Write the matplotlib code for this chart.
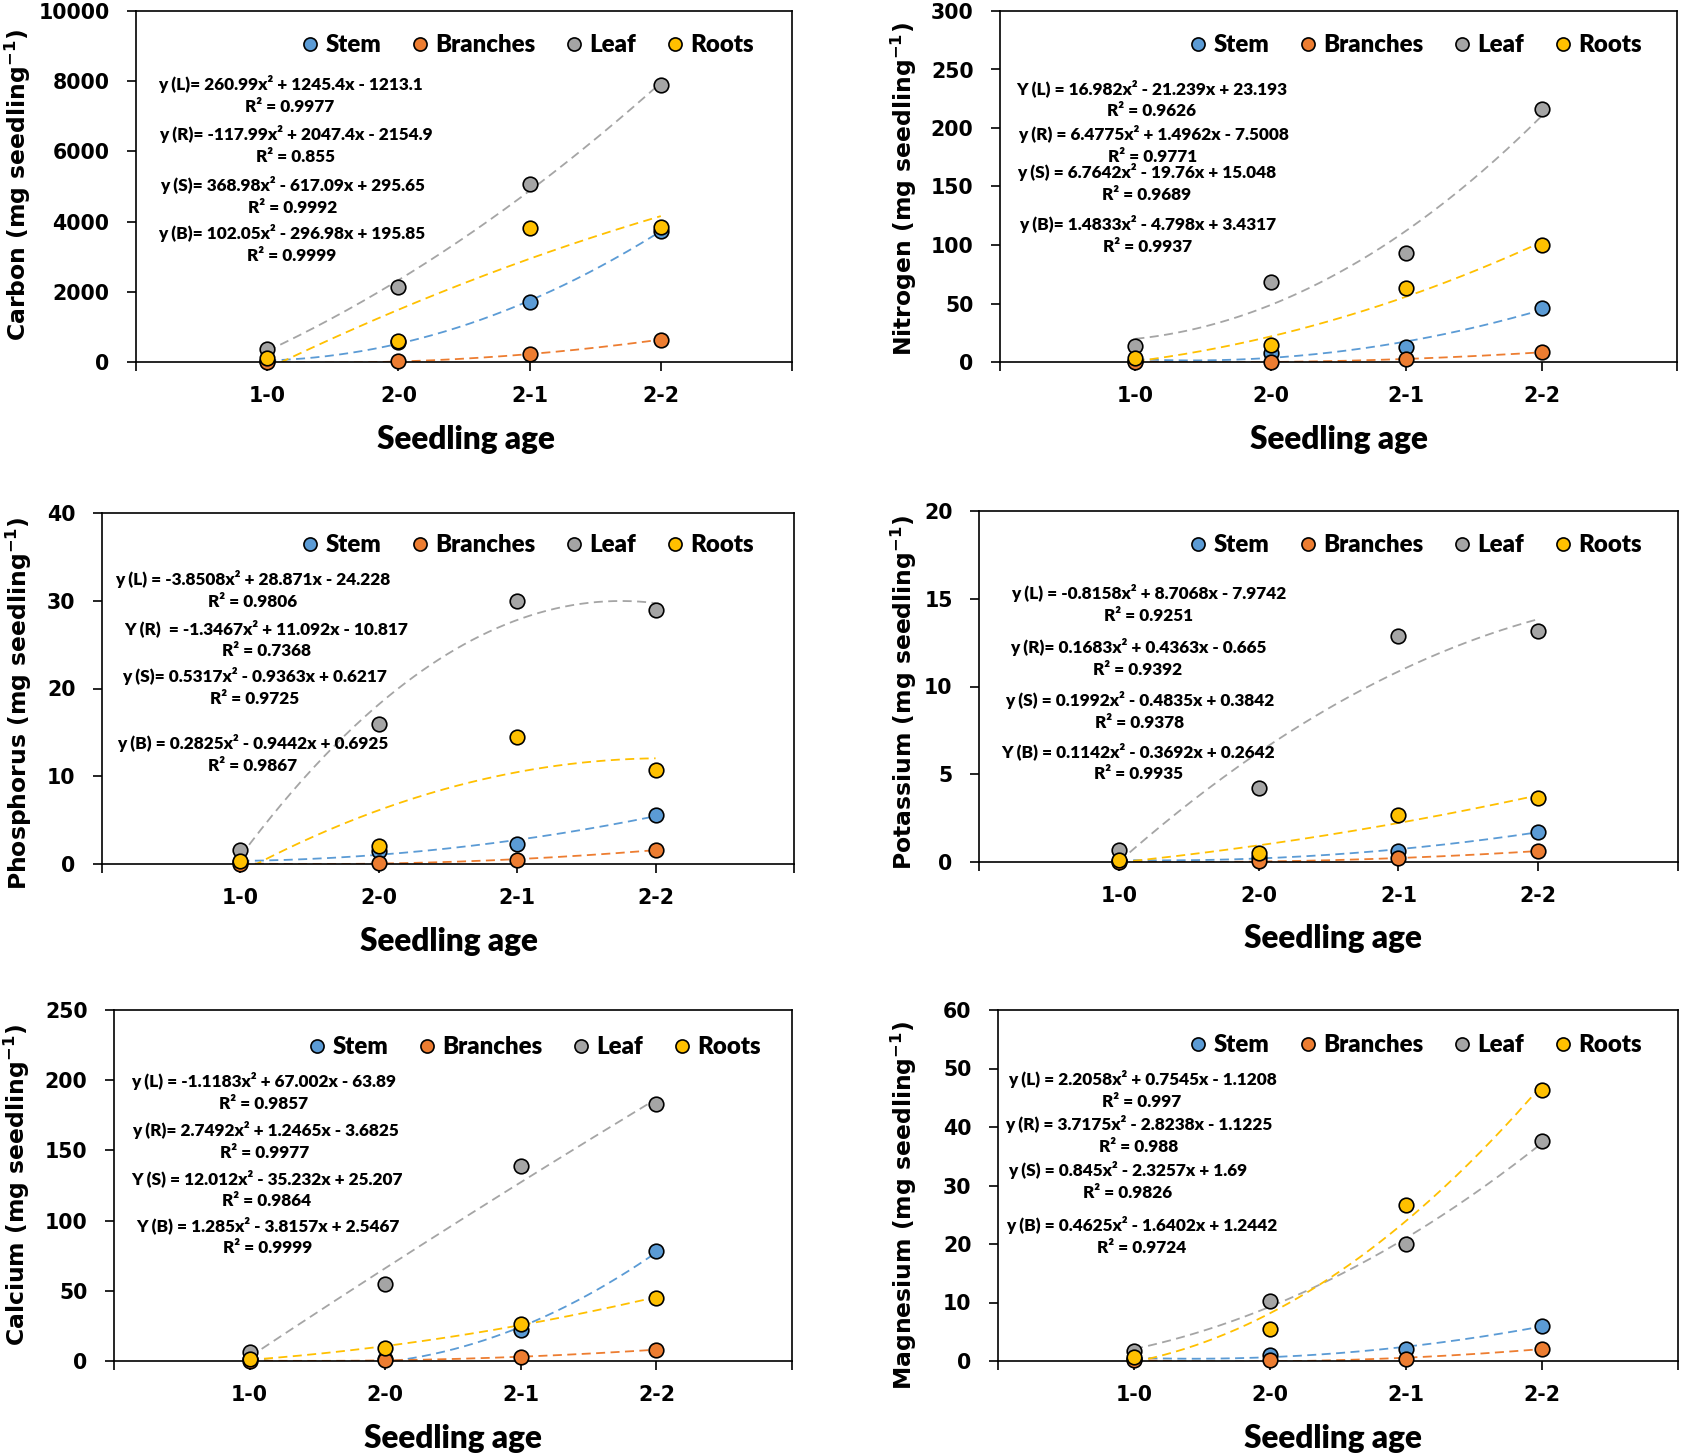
import numpy as np
import matplotlib
matplotlib.use('Agg')
import matplotlib.pyplot as plt

ages = ['1-0', '2-0', '2-1', '2-2']
parts = ['Stem', 'Branches', 'Leaf', 'Roots']
colors = ['#5B9BD5', '#ED7D31', '#A5A5A5', '#FFC000']

# values per part, order: Stem, Branches, Leaf, Roots
carbon = [[30, 560, 1710, 3740],
          [2, 15, 225, 640],
          [380, 2140, 5070, 7890],
          [100, 600, 3830, 3860]]
nitrogen = [[1.0, 8.0, 13.1, 46.0],
            [0.3, 0.3, 2.3, 8.4],
            [13.4, 68.0, 93.0, 216.6],
            [3.1, 14.3, 63.4, 100.0]]
phosphorus = [[0.2, 1.5, 2.3, 5.6],
              [0.05, 0.1, 0.5, 1.6],
              [1.6, 16.0, 30.0, 29.0],
              [0.38, 2.1, 14.5, 10.7]]
potassium = [[0.08, 0.3, 0.63, 1.73],
             [0.02, 0.04, 0.21, 0.63],
             [0.67, 4.24, 12.86, 13.17],
             [0.13, 0.49, 2.68, 3.65]]
calcium = [[1.5, 1.5, 22.1, 78.1],
           [0.3, 0.5, 3.0, 8.1],
           [6.7, 54.8, 138.6, 182.9],
           [1.2, 9.5, 26.7, 45.2]]
magnesium = [[0.4, 1.1, 2.0, 6.06],
             [0.1, 0.1, 0.4, 2.1],
             [1.7, 10.3, 20.0, 37.6],
             [0.74, 5.5, 26.6, 46.3]]

carbon_eqs = [('y (L)= 260.99x² + 1245.4x - 1213.1', 'R² = 0.9977'),
              ('y (R)= -117.99x² + 2047.4x - 2154.9', 'R² = 0.855'),
              ('y (S)= 368.98x² - 617.09x + 295.65', 'R² = 0.9992'),
              ('y (B)= 102.05x² - 296.98x + 195.85', 'R² = 0.9999')]
nitrogen_eqs = [('Y (L) = 16.982x² - 21.239x + 23.193', 'R² = 0.9626'),
                ('y (R) = 6.4775x² + 1.4962x - 7.5008', 'R² = 0.9771'),
                ('y (S) = 6.7642x² - 19.76x + 15.048', 'R² = 0.9689'),
                ('y (B)= 1.4833x² - 4.798x + 3.4317', 'R² = 0.9937')]
phosphorus_eqs = [('y (L) = -3.8508x² + 28.871x - 24.228', 'R² = 0.9806'),
                  ('Y (R)  = -1.3467x² + 11.092x - 10.817', 'R² = 0.7368'),
                  ('y (S)= 0.5317x² - 0.9363x + 0.6217', 'R² = 0.9725'),
                  ('y (B) = 0.2825x² - 0.9442x + 0.6925', 'R² = 0.9867')]
potassium_eqs = [('y (L) = -0.8158x² + 8.7068x - 7.9742', 'R² = 0.9251'),
                 ('y (R)= 0.1683x² + 0.4363x - 0.665', 'R² = 0.9392'),
                 ('y (S) = 0.1992x² - 0.4835x + 0.3842', 'R² = 0.9378'),
                 ('Y (B) = 0.1142x² - 0.3692x + 0.2642', 'R² = 0.9935')]
calcium_eqs = [('y (L) = -1.1183x² + 67.002x - 63.89', 'R² = 0.9857'),
               ('y (R)= 2.7492x² + 1.2465x - 3.6825', 'R² = 0.9977'),
               ('Y (S) = 12.012x² - 35.232x + 25.207', 'R² = 0.9864'),
               ('Y (B) = 1.285x² - 3.8157x + 2.5467', 'R² = 0.9999')]
magnesium_eqs = [('y (L) = 2.2058x² + 0.7545x - 1.1208', 'R² = 0.997'),
                 ('y (R) = 3.7175x² - 2.8238x - 1.1225', 'R² = 0.988'),
                 ('y (S) = 0.845x² - 2.3257x + 1.69', 'R² = 0.9826'),
                 ('y (B) = 0.4625x² - 1.6402x + 1.2442', 'R² = 0.9724')]

plt.rcParams['font.family'] = ['Lato', 'DejaVu Sans']
wide = ['DejaVu Sans']

W, H = 1683, 1455
fig = plt.figure(figsize=(W / 100, H / 100), dpi=100)

# layout in pixels: axes box (left, top, right, bottom), ylabel (right edge, centre),
# xlabel baseline (x, y), equation centres, legend centre
panels = [
    ('Carbon', carbon, carbon_eqs, 10000, 2000, (136, 11, 792, 362), (33, 185),
     (466, 449), [(290, 95), (296, 145), (293, 196), (292, 244)], (527, 45)),
    ('Nitrogen', nitrogen, nitrogen_eqs, 300, 50, (1000, 11, 1677, 362), (919, 189),
     (1339, 449), [(1152, 99), (1153, 145), (1147, 183), (1148, 235)], (1415, 45)),
    ('Phosphorus', phosphorus, phosphorus_eqs, 40, 10, (102, 513, 794, 864), (34, 703),
     (449, 951), [(253, 590), (266, 639), (255, 687), (253, 754)], (527, 545)),
    ('Potassium', potassium, potassium_eqs, 20, 5, (979, 511, 1678, 862), (919, 692),
     (1333, 948), [(1149, 604), (1138, 658), (1140, 711), (1138, 762)], (1415, 545)),
    ('Calcium', calcium, calcium_eqs, 250, 50, (114, 1010, 792, 1361), (32, 1185),
     (453, 1448), [(264, 1092), (265, 1141), (267, 1189), (268, 1236)], (534, 1047)),
    ('Magnesium', magnesium, magnesium_eqs, 60, 10, (998, 1010, 1678, 1361), (919, 1205),
     (1333, 1448), [(1142, 1090), (1139, 1135), (1128, 1181), (1142, 1236)], (1415, 1045)),
]

x = np.arange(1, len(ages) + 1)
xs = np.linspace(1, 4, 200)

for name, data, eqs, ymax, ystep, box, ylab, xlab, eq_pos, leg_pos in panels:
    l, t, r, b = box
    ax = fig.add_axes([l / W, 1 - b / H, (r - l) / W, (b - t) / H])
    # quadratic trendlines
    for vals, c in zip(data, colors):
        coef = np.polyfit(x, vals, 2)
        ax.plot(xs, np.polyval(coef, xs), color=c, lw=1.3, ls=(0, (5, 3)), zorder=2)
    for vals, part, c in zip(data, parts, colors):
        ax.plot(x, vals, 'o', color=c, mec='black', mew=1.2, ms=10.5, label=part,
                zorder=3, clip_on=False)
    ax.set_xlim(0, 5)
    ax.set_ylim(0, ymax)
    ax.set_xticks(np.arange(0, 6))
    ax.set_xticklabels([''] + ages + [''])
    yt = np.arange(0, ymax + ystep / 2, ystep)
    ax.set_yticks(yt)
    ax.set_yticklabels([f'{v:g}' for v in yt])
    ax.tick_params(direction='out', length=6.5, width=1.2, labelsize=14.8)
    ax.tick_params(axis='y', pad=12.5)
    ax.tick_params(axis='x', pad=11)
    for lab in ax.get_xticklabels() + ax.get_yticklabels():
        lab.set_fontweight('bold')
        lab.set_family(wide)
    for s in ax.spines.values():
        s.set_linewidth(1.2)
    ax.set_ylabel(name + r' (mg seedling$^{\mathbf{-1}}$)', fontsize=16.9,
                  fontweight='bold', family=wide)
    ax.yaxis.set_label_coords(ylab[0] / W, 1 - ylab[1] / H, transform=fig.transFigure)
    ax.set_xlabel('Seedling age', fontsize=22.7, fontweight='heavy')
    ax.xaxis.set_label_coords(xlab[0] / W, 1 - xlab[1] / H, transform=fig.transFigure)
    ax.xaxis.label.set_verticalalignment('baseline')
    for (eq, r2), (ex, ey) in zip(eqs, eq_pos):
        fig.text(ex / W, 1 - ey / H, eq + '\n' + r2, ha='center', va='center',
                 fontsize=12.4, fontweight='heavy', linespacing=1.4)
    ax.legend(loc='center', bbox_to_anchor=(leg_pos[0] / W, 1 - leg_pos[1] / H),
              bbox_transform=fig.transFigure, ncol=4, frameon=False,
              prop={'weight': 'heavy', 'size': 17.3},
              handletextpad=0.25, columnspacing=1.2, markerscale=0.9,
              handlelength=0.8)

fig.savefig('out.png', dpi=100)
